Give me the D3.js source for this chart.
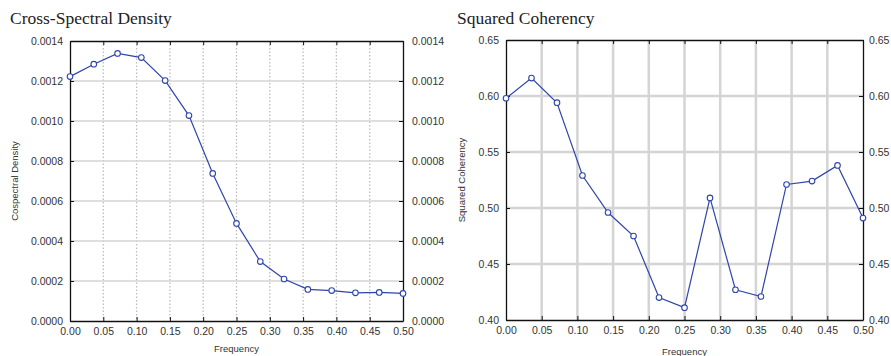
<!DOCTYPE html>
<html>
<head>
<meta charset="utf-8">
<script src="https://cdn.jsdelivr.net/npm/d3@7"></script>
<style>
    body { margin: 0; background: #fff; }
    text { font-family: "Liberation Sans", Arial, sans-serif; }
    .title { font-family: "Liberation Serif", "Times New Roman", serif; }
</style>
</head>
<body>
<div id="chart"></div>
<script>
// frequencies k/28, k = 0..14
var frequency = [0, 0.0357, 0.0714, 0.1071, 0.1429, 0.1786, 0.2143, 0.25,
    0.2857, 0.3214, 0.3571, 0.3929, 0.4286, 0.4643, 0.5];

var cospectralDensity = [0.001222, 0.001284, 0.001338, 0.001317, 0.001202, 0.001027,
    0.000738, 0.000488, 0.000297, 0.000210, 0.000158, 0.000152, 0.000141, 0.000143, 0.000138];

var squaredCoherency = [0.598, 0.616, 0.594, 0.529, 0.496, 0.475, 0.420, 0.411,
    0.509, 0.427, 0.421, 0.521, 0.524, 0.538, 0.491];

var xTicks = [0, 0.05, 0.1, 0.15, 0.2, 0.25, 0.3, 0.35, 0.4, 0.45, 0.5];
var densityTicks = [0, 0.0002, 0.0004, 0.0006, 0.0008, 0.0010, 0.0012, 0.0014];
var coherencyTicks = [0.40, 0.45, 0.50, 0.55, 0.60, 0.65];

var width = 891;
var height = 356;

var svg = d3.select("#chart")
    .append("svg")
    .attr("width", width)
    .attr("height", height);

function drawPanel(opts) {
    var g = svg.append("g");

    var x = d3.scaleLinear()
        .domain([0, 0.5])
        .range([opts.left, opts.right]);

    var y = d3.scaleLinear()
        .domain(opts.domain)
        .range([opts.bottom, opts.top]);

    // title
    g.append("text")
        .attr("class", "title")
        .attr("x", opts.titleX)
        .attr("y", 24)
        .attr("font-size", 17.5)
        .attr("fill", "#222")
        .text(opts.title);

    // grid
    g.selectAll(".vgrid")
        .data(xTicks.slice(1, -1))
        .join("line")
        .attr("x1", d => x(d))
        .attr("x2", d => x(d))
        .attr("y1", opts.top)
        .attr("y2", opts.bottom)
        .attr("stroke", opts.vGridColor)
        .attr("stroke-width", opts.gridWidth)
        .attr("stroke-dasharray", opts.vDash);

    g.selectAll(".hgrid")
        .data(opts.yTicks.slice(1, -1))
        .join("line")
        .attr("x1", opts.left)
        .attr("x2", opts.right)
        .attr("y1", d => y(d))
        .attr("y2", d => y(d))
        .attr("stroke", "#d4d4d4")
        .attr("stroke-width", opts.gridWidth);

    // axes, ticks pointing inward
    var fmtY = d3.format(opts.yFormat);

    var bottomAxis = g.append("g")
        .attr("transform", `translate(0, ${opts.bottom})`)
        .call(d3.axisBottom(x).tickValues(xTicks).tickFormat(d3.format(".2f"))
            .tickSizeInner(-4).tickSizeOuter(0).tickPadding(7));

    var topAxis = g.append("g")
        .attr("transform", `translate(0, ${opts.top})`)
        .call(d3.axisTop(x).tickValues(xTicks).tickFormat("")
            .tickSizeInner(-4).tickSizeOuter(0));

    var leftAxis = g.append("g")
        .attr("transform", `translate(${opts.left}, 0)`)
        .call(d3.axisLeft(y).tickValues(opts.yTicks).tickFormat(fmtY)
            .tickSizeInner(-4).tickSizeOuter(0).tickPadding(opts.leftPad));

    var rightAxis = g.append("g")
        .attr("transform", `translate(${opts.right}, 0)`)
        .call(d3.axisRight(y).tickValues(opts.yTicks).tickFormat(fmtY)
            .tickSizeInner(-4).tickSizeOuter(0).tickPadding(opts.rightPad));

    [bottomAxis, topAxis, leftAxis, rightAxis].forEach(a => {
        a.select(".domain").attr("stroke", "#111").attr("stroke-width", 1.3);
        a.selectAll(".tick line").attr("stroke", "#111");
        a.selectAll("text")
            .attr("font-family", "Liberation Sans, Arial, sans-serif")
            .attr("font-size", 10.5)
            .attr("fill", "#333");
    });

    // axis titles
    g.append("text")
        .attr("x", (opts.left + opts.right) / 2)
        .attr("y", opts.xTitleY)
        .attr("text-anchor", "middle")
        .attr("font-size", 9.5)
        .attr("fill", "#333")
        .text("Frequency");

    g.append("text")
        .attr("transform", "translate(" + opts.yTitleX + "," + ((opts.top + opts.bottom) / 2) + ") rotate(-90)")
        .attr("text-anchor", "middle")
        .attr("font-size", 9.5)
        .attr("fill", "#333")
        .text(opts.yTitle);

    // the line
    g.append("path")
        .datum(opts.values)
        .attr("fill", "none")
        .attr("stroke", "#2f45ab")
        .attr("stroke-width", 1.2)
        .attr("d", d3.line()
            .x((d, i) => x(frequency[i]))
            .y(d => y(d))
        );

    // the markers
    g.selectAll(".pt")
        .data(opts.values)
        .join("circle")
        .attr("cx", (d, i) => x(frequency[i]))
        .attr("cy", d => y(d))
        .attr("r", 2.8)
        .attr("fill", "#fff")
        .attr("stroke", "#2f45ab")
        .attr("stroke-width", 1.1);
}

drawPanel({
    title: "Cross-Spectral Density",
    titleX: 10,
    left: 70, right: 403, top: 41, bottom: 321,
    domain: [0, 0.0014],
    yTicks: densityTicks,
    yFormat: ".4f",
    values: cospectralDensity,
    vGridColor: "#bdbdbd",
    vDash: "1.5,2",
    gridWidth: 1.3,
    leftPad: 7, rightPad: 9,
    xTitleY: 352,
    yTitleX: 18,
    yTitle: "Cospectral Density"
});

drawPanel({
    title: "Squared Coherency",
    titleX: 457,
    left: 506, right: 863, top: 40, bottom: 320,
    domain: [0.40, 0.65],
    yTicks: coherencyTicks,
    yFormat: ".2f",
    values: squaredCoherency,
    vGridColor: "#d4d4d4",
    vDash: null,
    gridWidth: 2.5,
    leftPad: 7, rightPad: 6,
    xTitleY: 355,
    yTitleX: 465,
    yTitle: "Squared Coherency"
});
</script>
</body>
</html>
